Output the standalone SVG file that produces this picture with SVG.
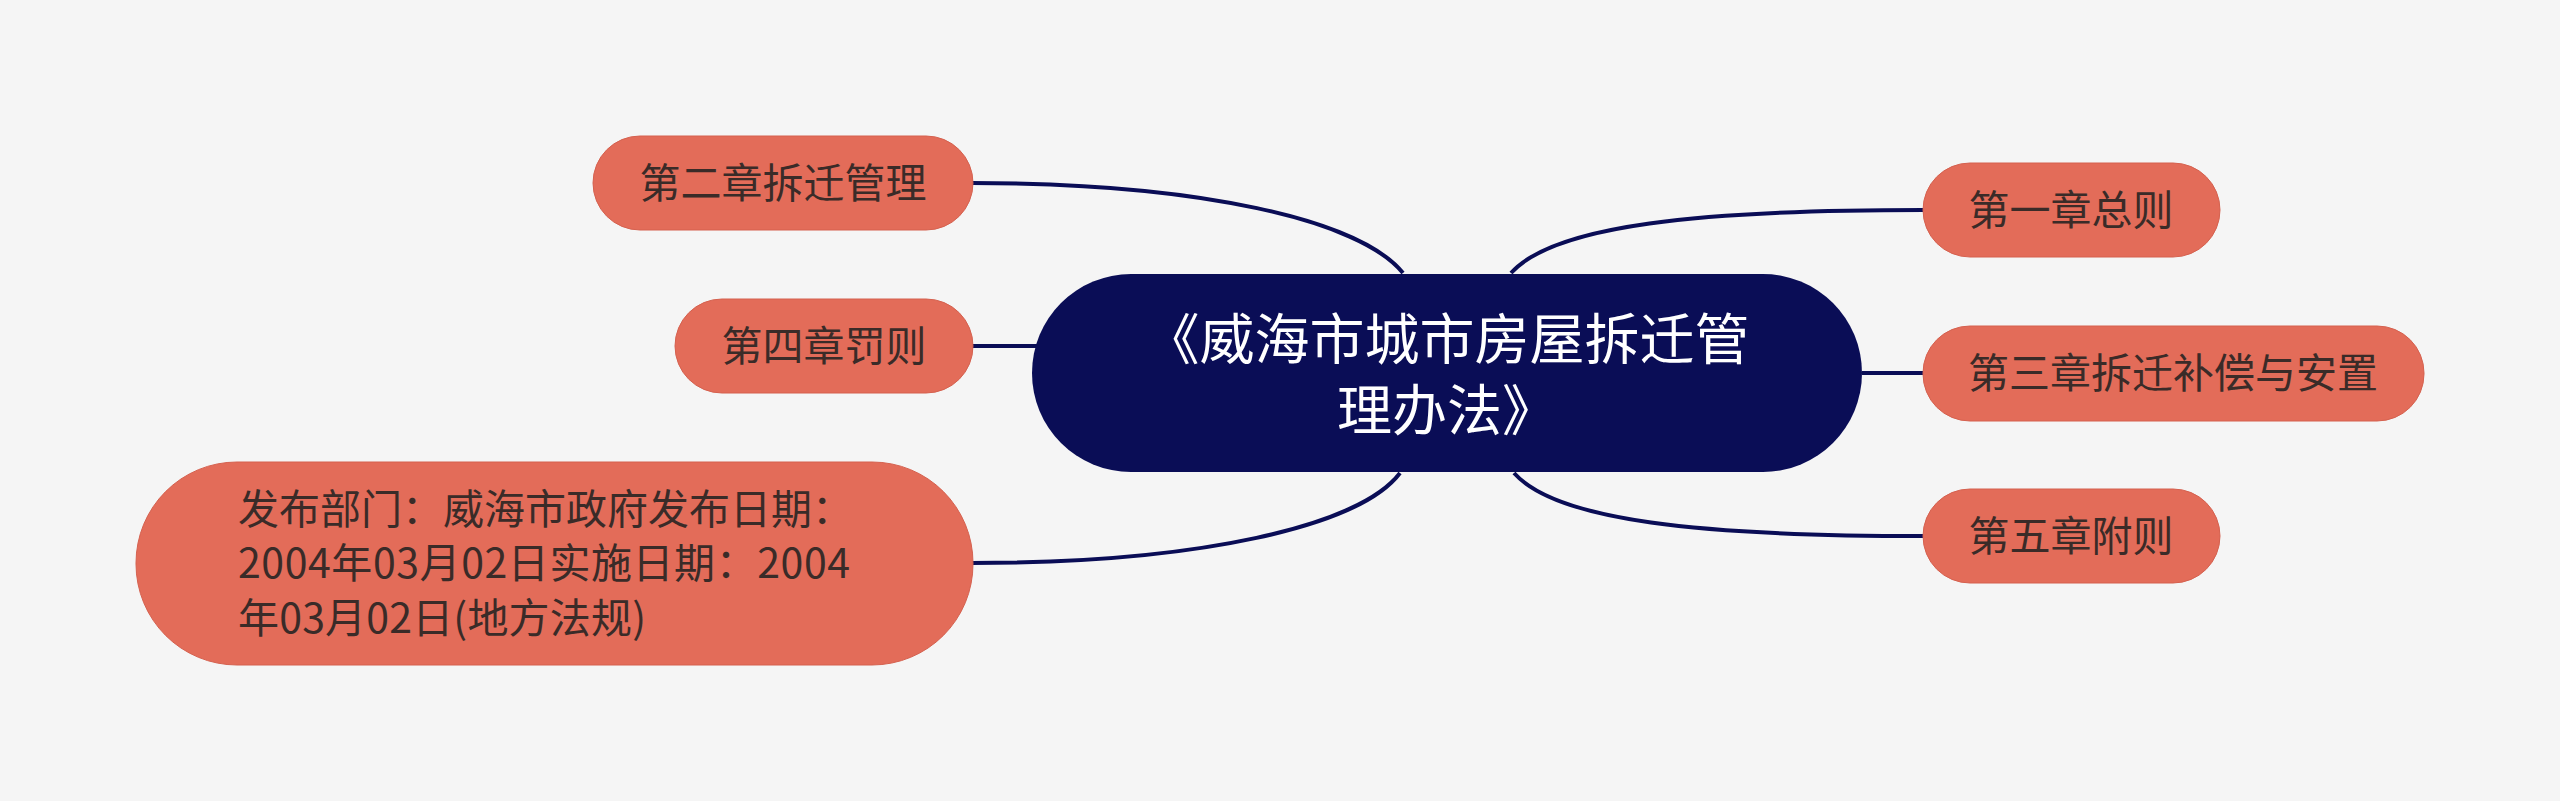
<svg xmlns="http://www.w3.org/2000/svg" width="2560" height="801" viewBox="0 0 2560 801">
<style>
.bg{fill:#f5f5f5}
.sub rect{fill:#e36c59;stroke:#d5614f;stroke-width:1}
.sub text{fill:#3a2b28;font-family:"Noto Sans CJK SC","Noto Sans",sans-serif;font-size:41px}
.root rect{fill:#0a0d56}
.root text{fill:#ffffff;font-family:"Noto Sans CJK SC","Noto Sans",sans-serif;font-size:55px;text-anchor:middle}
.c{text-anchor:middle}
#connectors path{fill:none;stroke:#0a0d56;stroke-width:4}
</style>
<rect class="bg" x="0" y="0" width="2560" height="801"/>
<g id="connectors">
<path d="M1403 273 C1360 220 1200 183 972 183"/>
<path d="M1039 346 L972 346"/>
<path d="M1400 473 C1360 526 1200 563 972 563"/>
<path d="M1511 273 C1554 225 1700 210 1923 210"/>
<path d="M1862 373 L1923 373"/>
<path d="M1514 473 C1557 521 1700 536 1923 536"/>
</g>
<g id="root" class="root">
<rect x="1032" y="274" width="830" height="198" rx="99"/>
<text x="1447" y="359">《威海市城市房屋拆迁管</text>
<text x="1447" y="430">理办法》</text>
</g>
<g id="n2" class="sub">
<rect x="593" y="136" width="380" height="94" rx="47"/>
<text class="c" x="783" y="198">第二章拆迁管理</text>
</g>
<g id="n4" class="sub">
<rect x="675" y="299" width="298" height="94" rx="47"/>
<text class="c" x="824" y="361">第四章罚则</text>
</g>
<g id="info" class="sub">
<rect x="136" y="462" width="837" height="203" rx="101"/>
<text x="238" y="524">发布部门：威海市政府发布日期：</text>
<text x="238" y="578" textLength="612" lengthAdjust="spacing">2004年03月02日实施日期：2004</text>
<text x="238" y="633" textLength="408" lengthAdjust="spacing">年03月02日(地方法规)</text>
</g>
<g id="n1" class="sub">
<rect x="1923" y="163" width="297" height="94" rx="47"/>
<text class="c" x="2071" y="225">第一章总则</text>
</g>
<g id="n3" class="sub">
<rect x="1923" y="326" width="501" height="95" rx="47"/>
<text class="c" x="2173" y="388">第三章拆迁补偿与安置</text>
</g>
<g id="n5" class="sub">
<rect x="1923" y="489" width="297" height="94" rx="47"/>
<text class="c" x="2071" y="551">第五章附则</text>
</g>
</svg>
